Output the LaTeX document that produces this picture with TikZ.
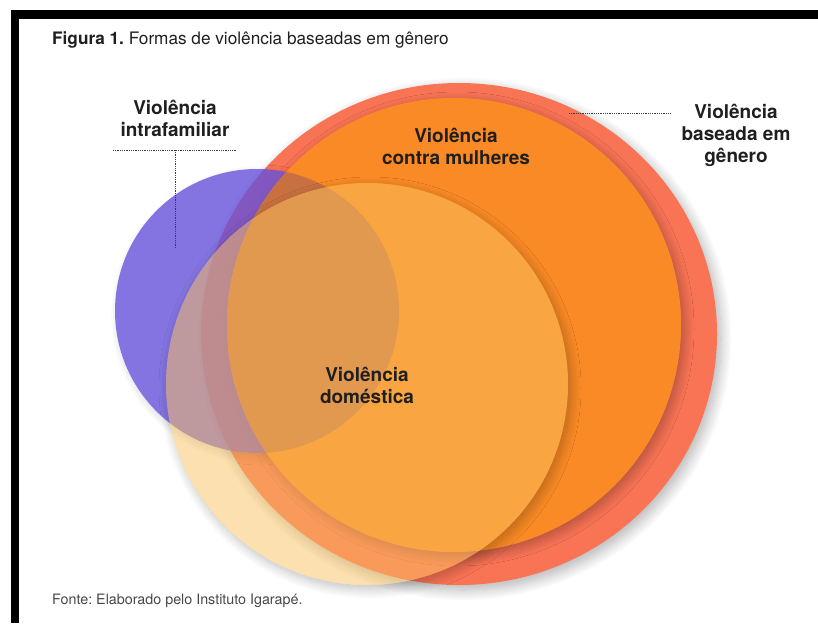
\documentclass[tikz,border=0pt]{standalone}
\usepackage{fontspec}
\setmainfont{TeX Gyre Heros}
\usepackage{xcolor}
\usetikzlibrary{shadows.blur}
\definecolor{genero}{RGB}{249,115,85}
\definecolor{mulheres}{RGB}{249,138,37}
\definecolor{intra}{RGB}{101,81,218}
\definecolor{intramul}{RGB}{200,112,64}
\definecolor{domestica}{RGB}{250,193,95}
\definecolor{pontos}{RGB}{60,60,60}
\newcommand\rimshadow[5]{%
  \begin{scope}
    \clip (0,0) -- (818,0) -- (818,623) -- (0,623) -- cycle
      (#1+#3,#2) arc[start angle=0, end angle=-360, radius=#3];
    \path[blur shadow={shadow xshift=3pt, shadow yshift=-4pt,
      shadow blur radius=#4pt, shadow blur steps=14, shadow opacity=#5}]
      (#1,#2) circle (#3);
  \end{scope}}
\tikzset{
  lbl/.style={align=center, inner sep=0pt, text=black!88,
    font=\fontsize{19}{22}\selectfont\bfseries},
  leader/.style={pontos, line width=0.9pt, dash pattern=on 0.9pt off 0.9pt}
}
\frenchspacing

\begin{document}
\begin{tikzpicture}[x=1pt, y=-1pt]
    \useasboundingbox (0,0) rectangle (818,623);
    \fill[black] (11,10) rectangle (818,19);
    \fill[black] (11,10) rectangle (19,623);

    \coordinate (Gen) at (459,334);
    \coordinate (Mul) at (454,325);
    \coordinate (Intra) at (257,311);
    \coordinate (Dom) at (367,384);

    \coordinate (intraA) at (113,150);
    \coordinate (intraB) at (237,150);
    \coordinate (intraC) at (175,150);
    \coordinate (intraD) at (175,249);
    \coordinate (genA) at (569,113);
    \coordinate (genB) at (670,113);

    \fill[genero, blur shadow={shadow xshift=4pt, shadow yshift=-5pt,
      shadow blur radius=11pt, shadow blur steps=14, shadow opacity=30}]
      (Gen) ellipse [x radius=258, y radius=251];
    \rimshadow{454}{325}{227}{10}{30}
    \rimshadow{257}{311}{142}{8}{18}
    \fill[intra, opacity=.8] (Intra) circle (142);
    \fill[mulheres] (Mul) circle (227);
    \begin{scope}
      \clip (Mul) circle (227);
      \fill[intramul] (Intra) circle (142);
    \end{scope}
    \rimshadow{367}{384}{201}{10}{26}
    \fill[domestica, opacity=.5] (Dom) circle (201);

    \node[anchor=west, inner sep=0pt, text=black!88] (titulo) at (52,40)
      {\fontsize{17.2}{19}\selectfont\textbf{Figura 1.} Formas de violência baseadas em gênero};
    \node[anchor=west, inner sep=0pt, text=black!72] (fonte) at (52,601)
      {\fontsize{14.3}{16}\selectfont Fonte: Elaborado pelo Instituto Igarapé.};

    \node[lbl] (intraL) at (175,118) {Violência\\intrafamiliar};
    \node[lbl] (genL) at (736,135) {Violência\\baseada em\\gênero};
    \node[lbl] (mulL) at (456,146) {Violência\\contra mulheres};
    \node[lbl] (domL) at (367,385) {Violência\\doméstica};

    \draw[leader] (intraA) -- (intraB);
    \draw[leader] (intraC) -- (intraD);
    \draw[leader] (genA) -- (genB);
\end{tikzpicture}
\end{document}
